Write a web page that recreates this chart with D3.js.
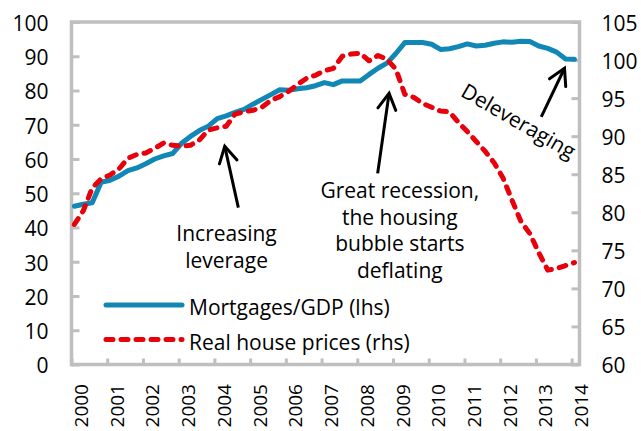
<!DOCTYPE html>
<html>
<head>
<meta charset="utf-8">
<script src="https://cdn.jsdelivr.net/npm/d3@7"></script>
<style>
  body { margin: 0; background: #fff; }
  text { font-family: "Open Sans", sans-serif; fill: #000; }
</style>
</head>
<body>
<svg id="chart" width="641" height="431"></svg>
<script>
// quarterly observations, 2000Q1 .. 2014Q1
let quarters = d3.range(57).map(i => (2000 + Math.floor(i / 4)) + "Q" + (i % 4 + 1))

// Mortgages / GDP, % (left axis)
let mortgages = [46.2, 46.8, 47.2, 53.2, 53.8, 55.0, 56.6, 57.4, 58.6, 60.0,
  60.9, 61.6, 64.6, 66.6, 68.3, 69.6, 71.8, 72.6, 73.6, 74.5,
  76.0, 77.4, 78.8, 80.2, 80.1, 80.5, 80.8, 81.4, 82.3, 81.7,
  82.8, 82.8, 82.8, 84.7, 86.5, 88.0, 90.8, 94.0, 94.0, 94.0,
  93.5, 92.0, 92.2, 92.8, 93.6, 93.0, 93.2, 93.8, 94.2, 94.1,
  94.4, 94.3, 93.0, 92.3, 91.2, 89.2, 89.1]

// Real house prices, index (right axis)
let housePrices = [78.4, 80.2, 83.2, 84.4, 84.9, 85.7, 87.1, 87.6, 87.8, 88.4,
  89.1, 88.8, 88.7, 88.8, 89.5, 90.8, 91.1, 91.3, 92.9, 93.2,
  93.4, 93.8, 94.7, 95.2, 95.9, 96.8, 97.6, 98.0, 98.6, 98.9,
  100.5, 100.8, 100.9, 99.9, 100.6, 100.1, 98.8, 95.5, 95.1, 94.3,
  93.8, 93.3, 93.2, 91.8, 90.6, 89.3, 88.0, 86.5, 84.5, 81.6,
  78.8, 77.2, 74.7, 72.4, 72.6, 73.0, 73.4]

let years = d3.range(2000, 2015)
let leftTicks = d3.range(0, 101, 10)
let rightTicks = d3.range(60, 106, 5)

let seriesNames = ["Mortgages/GDP (lhs)", "Real house prices (rhs)"]

// annotations, in data units (year, lhs value)
let arrows = [
  {from: [2004.67, 45.8], to: [2004.29, 63.7]},
  {from: [2008.57, 55.8], to: [2008.89, 79.2]},
  {from: [2013.15, 72.3], to: [2013.80, 86.5]}
]
let notes = [
  {at: [2004.34, 36.1], lines: ["Increasing", "leverage"], rotate: 0},
  {at: [2009.19, 48.6], lines: ["Great recession,", "the housing", "bubble starts", "deflating"], rotate: 0},
  {at: [2012.41, 69.2], lines: ["Deleveraging"], rotate: 30}
]

let blue = "#1187b6"
let red = "#e8000b"
let grey = "#bfbfbf"

let svg = d3.select("#chart")

let plotLeft = 71.5, plotRight = 579.5, plotTop = 22, plotBottom = 364.5

let qTime = q => +q.slice(0, 4) + (+q.slice(5) - 1) / 4 + 0.08

let x = d3.scaleLinear().domain([2000, 2014.22]).range([plotLeft, plotRight])
let yL = d3.scaleLinear().domain([0, 100]).range([plotBottom, plotTop])
let yR = d3.scaleLinear().domain([60, 105]).range([plotBottom, plotTop])

// frame
svg.append("rect")
  .attr("x", plotLeft).attr("y", plotTop)
  .attr("width", plotRight - plotLeft).attr("height", plotBottom - plotTop)
  .attr("fill", "none").attr("stroke", grey).attr("stroke-width", 3.5)

// left axis
let gL = svg.append("g").attr("transform", `translate(${plotLeft},0)`)
  .call(d3.axisLeft(yL).tickValues(leftTicks).tickSize(-8).tickPadding(23))
gL.select(".domain").remove()
gL.selectAll("line").attr("stroke", grey).attr("stroke-width", 3)
gL.selectAll("text").attr("font-size", 21).attr("font-family", "Open Sans").attr("dy", "0.4em")

// right axis
let gR = svg.append("g").attr("transform", `translate(${plotRight},0)`)
  .call(d3.axisRight(yR).tickValues(rightTicks).tickSize(-8).tickPadding(22))
gR.select(".domain").remove()
gR.selectAll("line").attr("stroke", grey).attr("stroke-width", 3)
gR.selectAll("text").attr("font-size", 21).attr("font-family", "Open Sans").attr("dy", "0.4em")

// bottom axis
let gB = svg.append("g").attr("transform", `translate(0,${plotBottom})`)
  .call(d3.axisBottom(x).tickValues(years).tickFormat(d3.format("d")).tickSize(-6))
gB.select(".domain").remove()
gB.selectAll("line").attr("stroke", grey).attr("stroke-width", 3)
gB.selectAll("text")
  .attr("font-size", 19).attr("font-family", "Open Sans")
  .attr("text-anchor", "end")
  .attr("transform", "rotate(-90)")
  .attr("x", -19.5).attr("y", 16).attr("dy", 0)

// lines
let lineL = d3.line().x((d, i) => x(qTime(quarters[i]))).y(d => yL(d))
let lineR = d3.line().x((d, i) => x(qTime(quarters[i]))).y(d => yR(d))

svg.append("path").datum(mortgages)
  .attr("d", lineL)
  .attr("fill", "none").attr("stroke", blue).attr("stroke-width", 5)
  .attr("stroke-linejoin", "round").attr("stroke-linecap", "round")

svg.append("path").datum(housePrices)
  .attr("d", lineR)
  .attr("fill", "none").attr("stroke", red).attr("stroke-width", 5)
  .attr("stroke-dasharray", "7,8")
  .attr("stroke-linejoin", "round").attr("stroke-linecap", "round")

// arrows
svg.append("defs").append("marker")
  .attr("id", "head")
  .attr("markerUnits", "userSpaceOnUse")
  .attr("viewBox", "-20 -12 24 24")
  .attr("markerWidth", 24).attr("markerHeight", 24)
  .attr("refX", 0).attr("refY", 0)
  .attr("orient", "auto")
  .append("path")
  .attr("d", "M-16,-9 L0,0 L-16,9")
  .attr("fill", "none").attr("stroke", "#000").attr("stroke-width", 3)
  .attr("stroke-linecap", "round").attr("stroke-linejoin", "miter")

svg.selectAll(".arrow").data(arrows).enter().append("line")
  .attr("class", "arrow")
  .attr("x1", d => x(d.from[0])).attr("y1", d => yL(d.from[1]))
  .attr("x2", d => x(d.to[0])).attr("y2", d => yL(d.to[1]))
  .attr("stroke", "#000").attr("stroke-width", 3)
  .attr("marker-end", "url(#head)")

// annotation text
notes.forEach(n => {
  let t = svg.append("text")
    .attr("font-size", 21)
    .attr("text-anchor", "middle")
    .attr("transform", `translate(${x(n.at[0])},${yL(n.at[1])}) rotate(${n.rotate})`)
  n.lines.forEach((s, i) => {
    t.append("tspan").attr("x", 0).attr("y", i * 26.7).text(s)
  })
})

// legend
let legend = svg.append("g").attr("transform", "translate(106,305)")
seriesNames.forEach((name, i) => {
  let row = legend.append("g").attr("transform", `translate(0,${i * 34.5})`)
  row.append("line")
    .attr("x1", 0).attr("x2", 76).attr("y1", 0).attr("y2", 0)
    .attr("stroke", i === 0 ? blue : red).attr("stroke-width", 5)
    .attr("stroke-linecap", "round")
    .attr("stroke-dasharray", i === 0 ? null : "7,8")
  row.append("text")
    .attr("x", 83).attr("y", 10)
    .attr("font-size", 21)
    .text(name)
})
</script>
</body>
</html>
